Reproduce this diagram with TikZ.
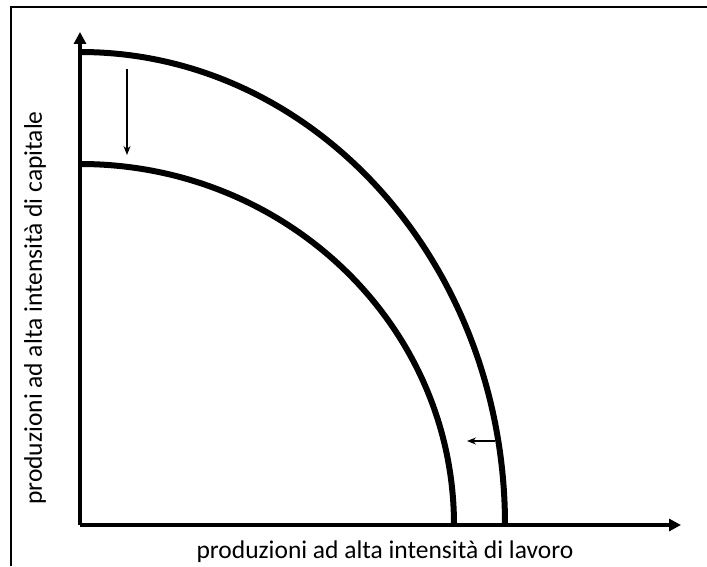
\documentclass[tikz,border=0pt]{standalone}
\usepackage{fontspec}
\setmainfont{Carlito}
\usetikzlibrary{arrows.meta, positioning}
\tikzset{
    % curve and axis styles
    frontier/.style={
        line width=6pt,
        black
    },
    axis line/.style={
        -{Triangle[length=12pt, width=12pt]},
        line width=4pt,
        black
    },
    shift arrow/.style={
        -{Stealth[length=9pt, width=7pt]},
        line width=1.2pt,
        black
    },
    axis label/.style={
        font=\fontsize{25.5}{30}\selectfont,
        inner sep=0pt
    }
}
\begin{document}
\begin{tikzpicture}[x=1pt, y=1pt]
        \useasboundingbox (0,0) rectangle (707,566);

        % Frame
        \draw[line width=1.4pt] (11,0) -- (11,559) -- (707,559);

        % Axes
        \coordinate (origin) at (80,41);
        \coordinate (ytip) at (80,534);
        \coordinate (xtip) at (681,41);
        \draw[axis line] (origin) -- (ytip);
        \draw[axis line] (origin) -- (xtip);

        % Frontiers
        \draw[frontier] (80,514) arc[start angle=90, end angle=0, x radius=425, y radius=473];
        \draw[frontier] (80,402) arc[start angle=90, end angle=0, x radius=374, y radius=361];

        % Shifts
        \coordinate (down a) at (127,497);
        \coordinate (down b) at (127,411);
        \draw[shift arrow] (down a) -- (down b);
        \coordinate (left a) at (495,125);
        \coordinate (left b) at (467,125);
        \draw[shift arrow] (left a) -- (left b);

        % Labels
        \node[axis label] (xlabel) at (385,14) {produzioni ad alta intensità di lavoro};
        \node[axis label, rotate=90] (ylabel) at (35,258) {produzioni ad alta intensità di capitale};
    \end{tikzpicture}
\end{document}
